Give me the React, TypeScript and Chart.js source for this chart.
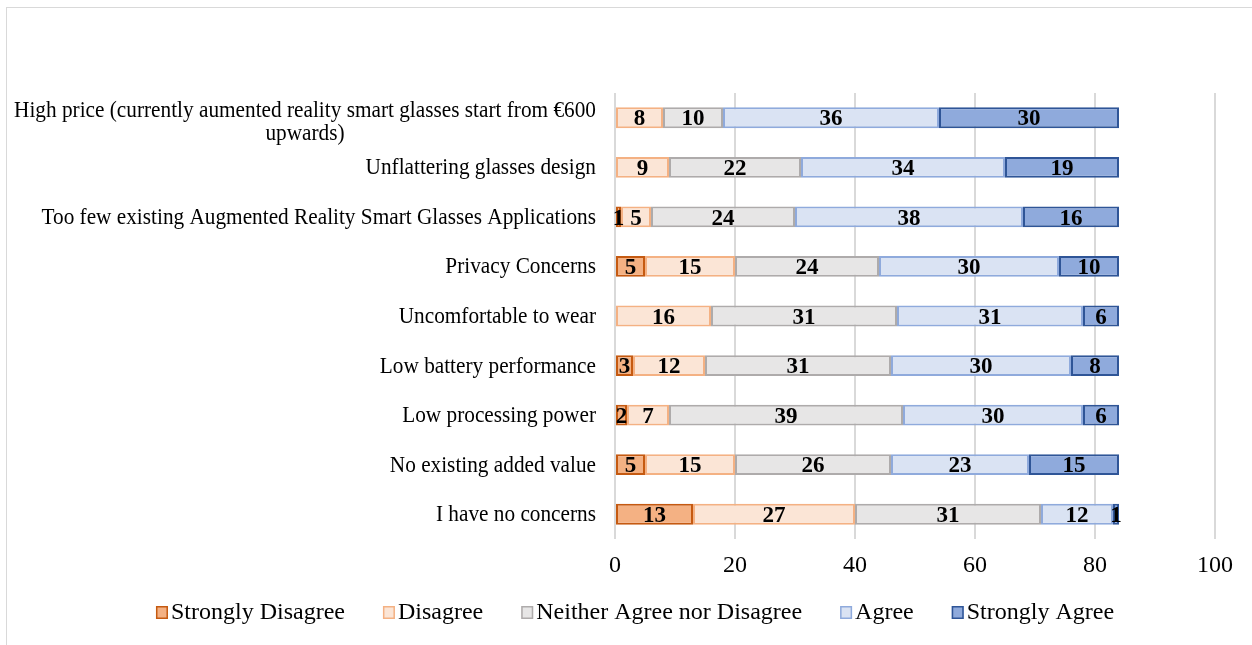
import React, { useEffect, useRef } from "react";
import { Chart, registerables } from "chart.js";

Chart.register(...registerables);

// ---- Data ----
const categories: string[][] = [
  ["High price (currently aumented reality smart glasses start from €600", "upwards)"],
  ["Unflattering glasses design"],
  ["Too few existing Augmented Reality Smart Glasses Applications"],
  ["Privacy Concerns"],
  ["Uncomfortable to wear"],
  ["Low battery performance"],
  ["Low processing power"],
  ["No existing added value"],
  ["I have no concerns"],
];

const seriesNames = [
  "Strongly Disagree",
  "Disagree",
  "Neither Agree nor Disagree",
  "Agree",
  "Strongly Agree",
];

const stronglyDisagree = [0, 0, 1, 5, 0, 3, 2, 5, 13];
const disagree = [8, 9, 5, 15, 16, 12, 7, 15, 27];
const neither = [10, 22, 24, 24, 31, 31, 39, 26, 31];
const agree = [36, 34, 38, 30, 31, 30, 30, 23, 12];
const stronglyAgree = [30, 19, 16, 10, 6, 8, 6, 15, 1];

const xTickValues = [0, 20, 40, 60, 80, 100];

// ---- Styles ----
const fills = ["#F4B183", "#FBE5D6", "#E7E6E6", "#DAE3F3", "#8FAADC"];
const borders = ["#C55A11", "#F4B183", "#AEABAB", "#8FAADC", "#2F5597"];
const FONT = "'Liberation Serif', 'Times New Roman', serif";

const seriesValues = [stronglyDisagree, disagree, neither, agree, stronglyAgree];

function drawScaledText(ctx: any, text: string, x: number, y: number, sx: number) {
  ctx.save();
  ctx.translate(x, y);
  ctx.scale(sx, 1);
  ctx.fillText(text, 0, 0);
  ctx.restore();
}

const categoryLabelsPlugin = {
  id: "categoryLabels",
  afterDraw(chart: any) {
    const ctx = chart.ctx;
    const y = chart.scales.y;
    const right = chart.chartArea.left - 19;
    const sx = 0.925;
    ctx.save();
    ctx.font = `23px ${FONT}`;
    ctx.fillStyle = "#000";
    ctx.textBaseline = "middle";
    ctx.textAlign = "center";
    const lh = 23;
    categories.forEach((lines, i) => {
      const cy = y.getPixelForValue(i) + 1;
      const maxW = Math.max(...lines.map((l) => ctx.measureText(l).width)) * sx;
      const cx = right - maxW / 2;
      const shift = lines.length > 1 ? 4 : 0;
      lines.forEach((l, j) => {
        drawScaledText(ctx, l, cx, cy + (j - (lines.length - 1) / 2) * lh + shift, sx);
      });
    });
    ctx.restore();
  },
};

const dataLabelsPlugin = {
  id: "dataLabels",
  afterDatasetsDraw(chart: any) {
    const ctx = chart.ctx;
    ctx.save();
    ctx.font = `bold 24px ${FONT}`;
    ctx.fillStyle = "#000";
    ctx.textAlign = "center";
    ctx.textBaseline = "middle";
    chart.data.datasets.forEach((ds: any, di: number) => {
      const meta = chart.getDatasetMeta(di);
      meta.data.forEach((el: any, i: number) => {
        const v = ds.data[i];
        if (!v) return;
        const p = el.getCenterPoint();
        drawScaledText(ctx, String(v), p.x, p.y + 1.5, 0.96);
      });
    });
    ctx.restore();
  },
};

const legendPlugin = {
  id: "customLegend",
  afterDraw(chart: any) {
    const ctx = chart.ctx;
    ctx.save();
    ctx.font = `24px ${FONT}`;
    ctx.textBaseline = "middle";
    ctx.textAlign = "left";
    const box = 12;
    const gap = 3;
    const itemGap = 38;
    const widths = seriesNames.map((n) => ctx.measureText(n).width);
    const total =
      widths.reduce((a, b) => a + b, 0) + seriesNames.length * (box + gap) + itemGap * (seriesNames.length - 1);
    let x = (chart.width - total) / 2 + 9;
    const cy = chart.height - 33;
    seriesNames.forEach((n, i) => {
      ctx.fillStyle = fills[i];
      ctx.fillRect(x, cy - 6, box, 13);
      ctx.strokeStyle = borders[i];
      ctx.lineWidth = 1.5;
      ctx.strokeRect(x + 0.75, cy - 6 + 0.75, box - 1.5, 13 - 1.5);
      ctx.fillStyle = "#000";
      ctx.fillText(n, x + box + gap, cy + 1);
      x += box + gap + widths[i] + itemGap;
    });
    ctx.restore();
  },
};

export default function App() {
  const canvasRef = useRef<HTMLCanvasElement | null>(null);

  useEffect(() => {
    if (!canvasRef.current) return;
    Chart.defaults.font.family = FONT;
    const chart = new Chart(canvasRef.current, {
      type: "bar",
      data: {
        labels: categories.map((c) => c.join(" ")),
        datasets: seriesNames.map((name, i) => ({
          label: name,
          data: seriesValues[i],
          backgroundColor: fills[i],
          borderColor: borders[i],
          borderWidth: 2,
          borderSkipped: false,
          categoryPercentage: 1,
          barPercentage: 0.42,
        })),
      },
      options: {
        indexAxis: "y",
        animation: false,
        responsive: true,
        maintainAspectRatio: false,
        layout: { padding: { top: 93, right: 37, bottom: 66, left: 0 } },
        plugins: {
          legend: { display: false },
          tooltip: { enabled: false },
        },
        scales: {
          x: {
            stacked: true,
            min: 0,
            max: 100,
            afterBuildTicks: (scale: any) => {
              scale.ticks = xTickValues.map((v) => ({ value: v }));
            },
            afterFit: (scale: any) => {
              scale.height = 40;
            },
            ticks: {
              color: "#000",
              font: { size: 24, family: FONT },
              padding: 12,
            },
            grid: { color: "#D9D9D9", lineWidth: 2, drawTicks: false },
            border: { display: false },
          },
          y: {
            stacked: true,
            afterFit: (scale: any) => {
              scale.width = 615;
            },
            ticks: { display: false },
            grid: { display: false, drawTicks: false },
            border: { display: false },
          },
        },
      },
      plugins: [categoryLabelsPlugin, dataLabelsPlugin, legendPlugin],
    });
    return () => chart.destroy();
  }, []);

  return (
    <div style={{ position: "fixed", left: 0, top: 0, width: 1252, height: 645, overflow: "hidden", background: "#fff" }}>
      <div
        style={{
          position: "absolute",
          left: 6,
          top: 7,
          width: 1300,
          height: 700,
          border: "1px solid #D9D9D9",
          boxSizing: "border-box",
        }}
      />
      <div style={{ position: "absolute", left: 0, top: 0, width: 1252, height: 645 }}>
        <canvas ref={canvasRef} />
      </div>
    </div>
  );
}
